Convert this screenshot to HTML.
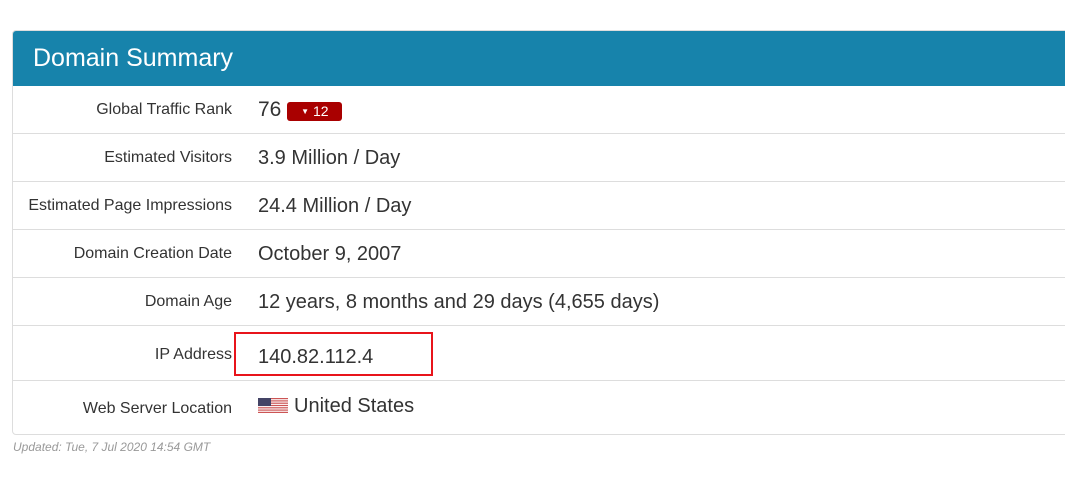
<!DOCTYPE html>
<html><head><meta charset="utf-8"><style>
body{margin:0;background:#fff;width:1065px;height:481px;overflow:hidden;font-family:"Liberation Sans",Arial,sans-serif;position:relative}
.panel{position:absolute;left:12px;top:30px;width:1070px;height:405px;border:1px solid #ddd;border-radius:4px;box-sizing:border-box;overflow:hidden}
.hdr{position:absolute;left:0;top:0;right:0;height:55px;background:#1783ab;color:#fff;font-size:25px;line-height:55px;padding-left:20px}
.row{position:absolute;left:0;right:0;border-top:1px solid #ddd}
.lbl{position:absolute;right:849px;font-size:16px;color:#333;white-space:nowrap}
.val{position:absolute;left:245px;font-size:20px;color:#333;white-space:nowrap}
.badge{display:inline-block;background:#a90000;color:#fff;font-size:14px;border-radius:3px;width:55px;height:19px;line-height:19px;text-align:center;vertical-align:0px;margin-left:6px}
.upd{position:absolute;left:13px;top:440px;font-size:12px;font-style:italic;color:#999}
.box{position:absolute;left:234px;top:332px;width:199px;height:44px;border:2px solid #e8141b;box-sizing:border-box}
</style></head><body>
<div class="panel">
<div class="hdr">Domain Summary</div>
<div class="row" style="top:55px;height:48px;border-top:none"><span class="lbl" style="top:15px">Global Traffic Rank</span><span class="val" style="top:12px;font-size:21px">76<span class="badge"><span style="font-size:8px;vertical-align:2px">▼</span> 12</span></span></div>
<div class="row" style="top:102px;height:48px"><span class="lbl" style="top:15px">Estimated Visitors</span><span class="val" style="top:13px">3.9 Million / Day</span></div>
<div class="row" style="top:150px;height:48px"><span class="lbl" style="top:15px">Estimated Page Impressions</span><span class="val" style="top:13px">24.4 Million / Day</span></div>
<div class="row" style="top:198px;height:48px"><span class="lbl" style="top:15px">Domain Creation Date</span><span class="val" style="top:13px">October 9, 2007</span></div>
<div class="row" style="top:246px;height:48px"><span class="lbl" style="top:15px">Domain Age</span><span class="val" style="top:13px">12 years, 8 months and 29 days (4,655 days)</span></div>
<div class="row" style="top:294px;height:55px"><span class="lbl" style="top:20px">IP Address</span><span class="val" style="top:20px">140.82.112.4</span></div>
<div class="row" style="top:349px;height:55px"><span class="lbl" style="top:19px">Web Server Location</span><span class="val" style="top:14px"><svg width="30" height="15" style="vertical-align:-1px;margin-right:6px"><rect width="30" height="15" fill="#fff"/><g fill="#c55"><rect y="0" width="30" height="1.2"/><rect y="2.3" width="30" height="1.2"/><rect y="4.6" width="30" height="1.2"/><rect y="6.9" width="30" height="1.2"/><rect y="9.2" width="30" height="1.2"/><rect y="11.5" width="30" height="1.2"/><rect y="13.8" width="30" height="1.2"/></g><rect width="13" height="8" fill="#446"/></svg>United States</span></div>
</div>
<div class="box"></div>
<div class="upd">Updated: Tue, 7 Jul 2020 14:54 GMT</div>
</body></html>
